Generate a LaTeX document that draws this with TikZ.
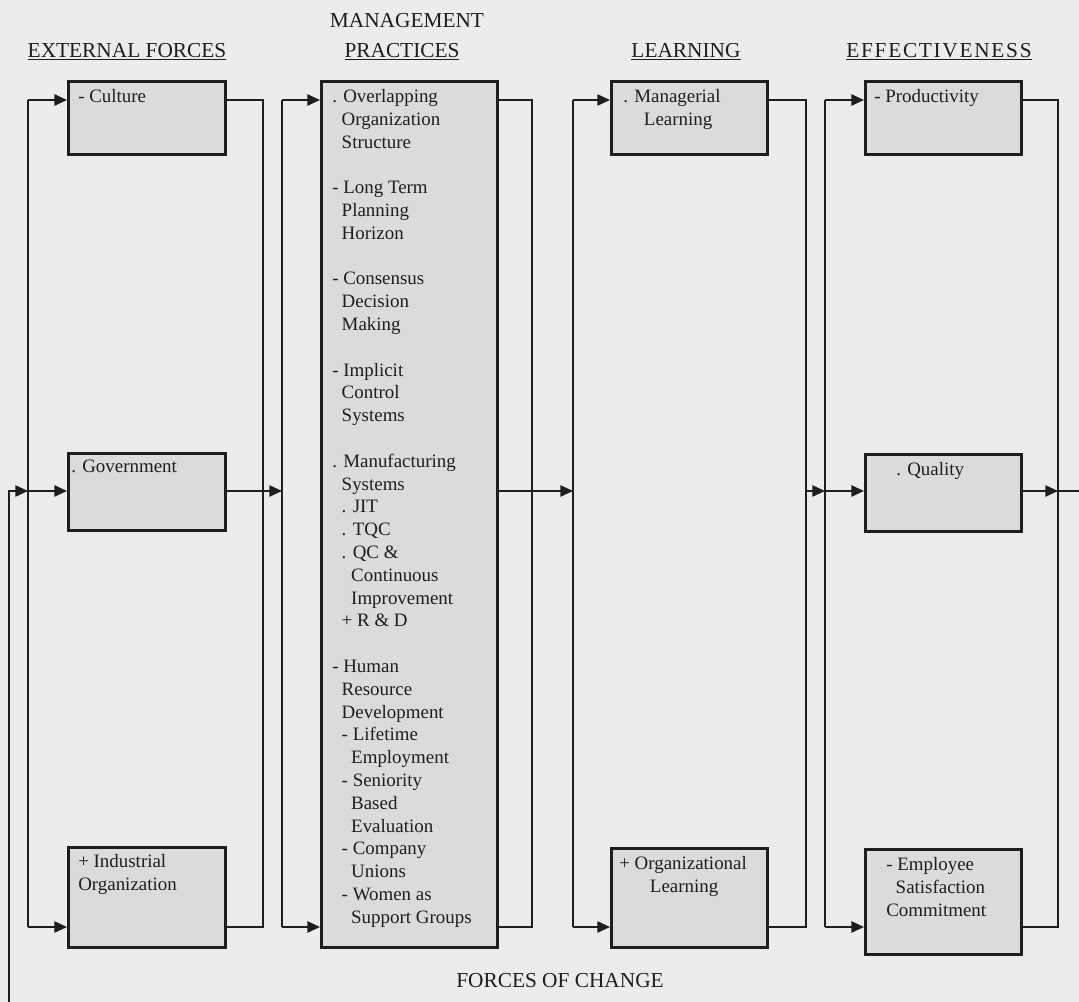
\documentclass[tikz,border=0pt]{standalone}
\usepackage{fontspec}
\setmainfont{Liberation Serif}
\usepackage{tikz}
\usetikzlibrary{arrows.meta}

\definecolor{paper}{HTML}{ECECEC}
\definecolor{boxfill}{HTML}{DBDBDB}
\definecolor{ink}{HTML}{1E1E1E}

\newcommand{\lvone}{\hspace*{.5em}}
\newcommand{\lvtwo}{\hspace*{1em}}

\tikzset{
  fbox/.style={draw=ink, line width=2.2pt, fill=boxfill, anchor=north west, inner sep=0pt},
  btext/.style={anchor=north west, align=left, inner sep=0pt, text=ink, font=\fontsize{14.2}{17.1}\selectfont},
  colhead/.style={anchor=base, inner sep=0pt, text=ink, font=\fontsize{16}{19}\selectfont},
  conn/.style={draw=ink, line width=1.2pt},
  arr/.style={conn, -{Triangle[length=9.5pt,width=8.5pt]}}
}

\begin{document}
\begin{tikzpicture}[x=0.75pt, y=-0.75pt]
\useasboundingbox (0,0) rectangle (1079,1002);
\fill[paper] (0,0) rectangle (1079,1002);

% rows and buses
\coordinate (top) at (0,100);
\coordinate (mid) at (0,491);
\coordinate (bot) at (0,927);
\coordinate (lb1) at (28,0);
\coordinate (rb1) at (263,0);
\coordinate (lb2) at (282,0);
\coordinate (rb2) at (532,0);
\coordinate (lb3) at (573,0);
\coordinate (rb3) at (806,0);
\coordinate (lb4) at (825,0);
\coordinate (rb4) at (1058,0);
\coordinate (fbl) at (9,1002);
\coordinate (fbr) at (1079,491);

% column titles
\node[colhead] (hext) at (127,57.5) {\underline{EXTERNAL FORCES}};
\node[colhead] (hmg1) at (407,27.5) {MANAGEMENT};
\node[colhead] (hmg2) at (402,57.5) {\underline{PRACTICES}};
\node[colhead] (hlrn) at (686,57.5) {\underline{LEARNING}};
\node[colhead] (heff) at (939,57.5) {\underline{\addfontfeatures{LetterSpace=8}EFFECTIVENESS}};
\node[colhead] (hchg) at (560,987.5) {FORCES OF CHANGE};

% boxes
\node[fbox, minimum width=117.75pt, minimum height=54.75pt] (cult) at (67,80) {};
\node[fbox, minimum width=117.75pt, minimum height=57.75pt] (govt) at (67,452) {};
\node[fbox, minimum width=117.75pt, minimum height=75pt] (indu) at (67,846) {};
\node[fbox, minimum width=132pt, minimum height=649.5pt] (mgmt) at (320,80) {};
\node[fbox, minimum width=117pt, minimum height=54.75pt] (mlrn) at (610,80) {};
\node[fbox, minimum width=117pt, minimum height=74.25pt] (olrn) at (610,847) {};
\node[fbox, minimum width=117pt, minimum height=54.75pt] (prod) at (864,80) {};
\node[fbox, minimum width=117pt, minimum height=57.75pt] (qual) at (864,453) {};
\node[fbox, minimum width=117pt, minimum height=78.75pt] (empl) at (864,848) {};

% external forces
\draw[arr] (fbl) |- (lb1 |- mid);
\draw[conn] (lb1 |- top) -- (lb1 |- bot);
\draw[arr] (lb1 |- top) -- (cult.west |- top);
\draw[arr] (lb1 |- mid) -- (govt.west |- mid);
\draw[arr] (lb1 |- bot) -- (indu.west |- bot);
\draw[conn] (cult.east |- top) -| (rb1 |- bot) -- (indu.east |- bot);
\draw[arr] (govt.east |- mid) -- (lb2 |- mid);

% management practices
\draw[conn] (lb2 |- top) -- (lb2 |- bot);
\draw[arr] (lb2 |- top) -- (mgmt.west |- top);
\draw[arr] (lb2 |- bot) -- (mgmt.west |- bot);
\draw[conn] (mgmt.east |- top) -| (rb2 |- bot) -- (mgmt.east |- bot);
\draw[arr] (mgmt.east |- mid) -- (lb3 |- mid);

% learning
\draw[conn] (lb3 |- top) -- (lb3 |- bot);
\draw[arr] (lb3 |- top) -- (mlrn.west |- top);
\draw[arr] (lb3 |- bot) -- (olrn.west |- bot);
\draw[conn] (mlrn.east |- top) -| (rb3 |- bot) -- (olrn.east |- bot);
\draw[arr] (rb3 |- mid) -- (lb4 |- mid);

% effectiveness
\draw[conn] (lb4 |- top) -- (lb4 |- bot);
\draw[arr] (lb4 |- top) -- (prod.west |- top);
\draw[arr] (lb4 |- mid) -- (qual.west |- mid);
\draw[arr] (lb4 |- bot) -- (empl.west |- bot);
\draw[conn] (prod.east |- top) -| (rb4 |- bot) -- (empl.east |- bot);
\draw[arr] (qual.east |- mid) -- (rb4 |- mid);
\draw[conn] (rb4 |- mid) -- (fbr);

% box texts
\node[btext] (cult-t) at (78,89) {- Culture};
\node[btext] (govt-t) at (71,460) {. Government};
\node[btext] (indu-t) at (78,854) {+ Industrial\\Organization};
\node[btext] (mlrn-t) at (623,89) {. Managerial\\\hspace*{15.5pt}Learning};
\node[btext] (olrn-t) at (619,856) {+ Organizational\\\hspace*{23pt}Learning};
\node[btext] (prod-t) at (874,89) {- Productivity};
\node[btext] (qual-t) at (896,462) {. Quality};
\node[btext] (empl-t) at (886,857) {- Employee\\\lvone Satisfaction\\Commitment};
\node[btext] (mgmt-t) at (332,89) {. Overlapping\\
\lvone Organization\\
\lvone Structure\\[17.1pt]
- Long Term\\
\lvone Planning\\
\lvone Horizon\\[17.1pt]
- Consensus\\
\lvone Decision\\
\lvone Making\\[17.1pt]
- Implicit\\
\lvone Control\\
\lvone Systems\\[17.1pt]
. Manufacturing\\
\lvone Systems\\
\lvone . JIT\\
\lvone . TQC\\
\lvone . QC \&\\
\lvtwo Continuous\\
\lvtwo Improvement\\
\lvone + R \& D\\[17.1pt]
- Human\\
\lvone Resource\\
\lvone Development\\
\lvone - Lifetime\\
\lvtwo Employment\\
\lvone - Seniority\\
\lvtwo Based\\
\lvtwo Evaluation\\
\lvone - Company\\
\lvtwo Unions\\
\lvone - Women as\\
\lvtwo Support Groups};
\end{tikzpicture}
\end{document}
